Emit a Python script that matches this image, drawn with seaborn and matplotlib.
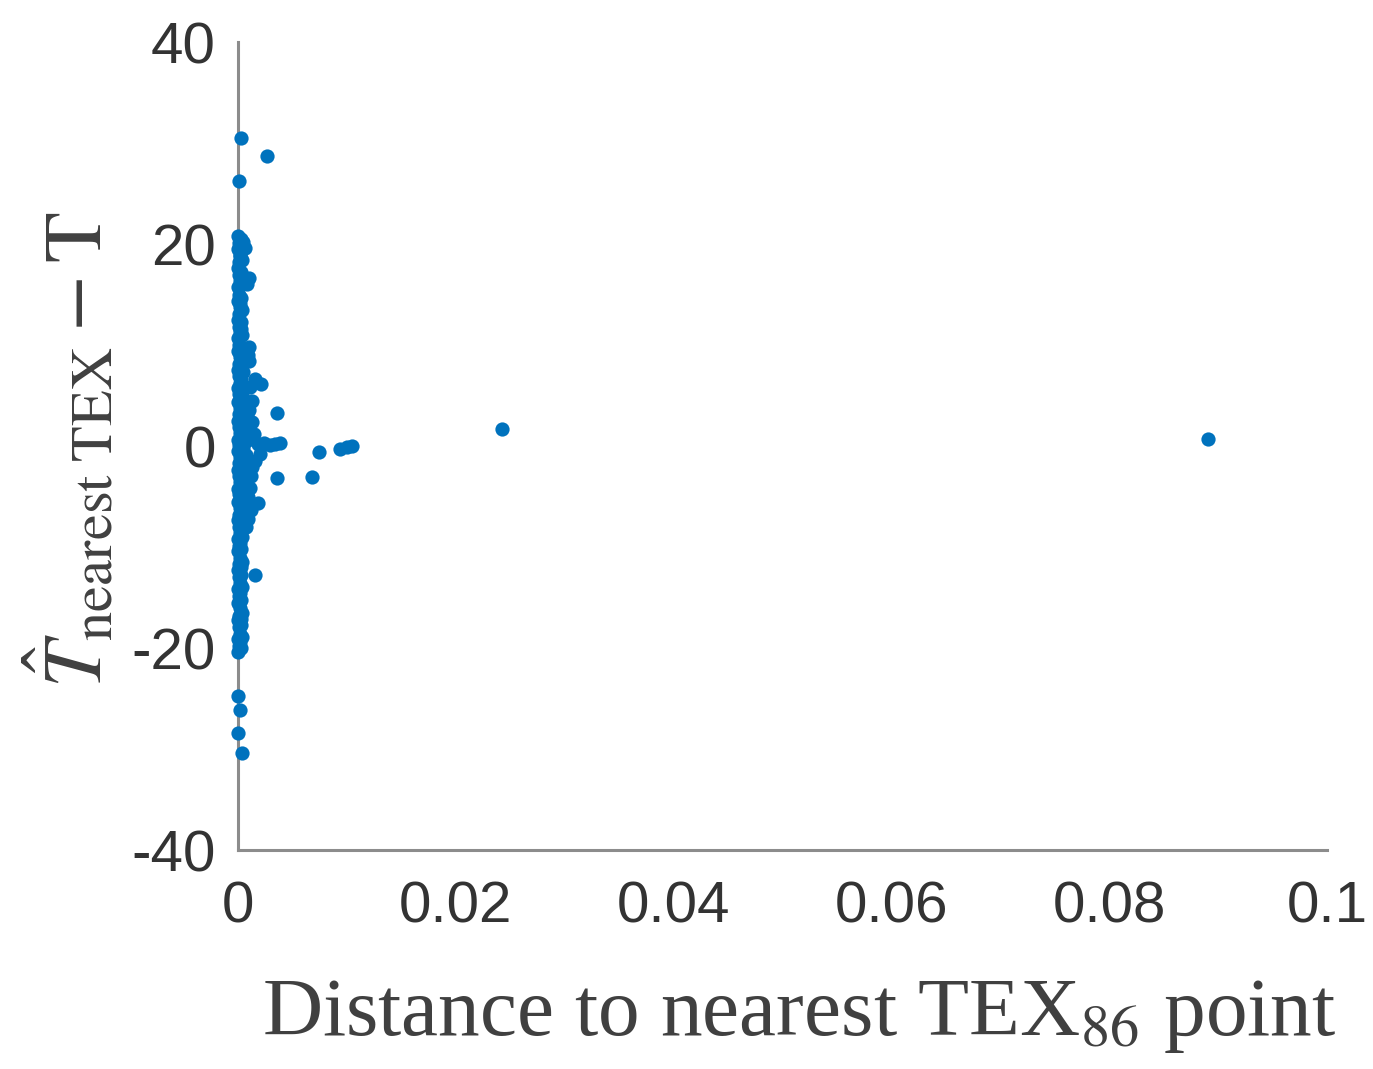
import matplotlib
matplotlib.use("Agg")
import matplotlib.pyplot as plt
import seaborn as sns
import pandas as pd

# ---- data ----
# dense column right next to x = 0
core_x = [0.0000, 0.0001, 0.0000, 0.0002, 0.0001, 0.0000, 0.0001, 0.0002, 0.0000, 0.0001,
          0.0000, 0.0002, 0.0001, 0.0000, 0.0001, 0.0002, 0.0000, 0.0001, 0.0000, 0.0002,
          0.0001, 0.0000, 0.0001, 0.0002, 0.0000, 0.0001, 0.0000, 0.0002, 0.0001, 0.0000,
          0.0001, 0.0002, 0.0000, 0.0001, 0.0000, 0.0002, 0.0001, 0.0000, 0.0001, 0.0002,
          0.0000, 0.0001, 0.0000, 0.0002, 0.0001, 0.0000, 0.0001, 0.0002, 0.0000, 0.0001,
          0.0000, 0.0002, 0.0001, 0.0000, 0.0001, 0.0002, 0.0000, 0.0001, 0.0000, 0.0002,
          0.0001, 0.0000, 0.0001, 0.0002, 0.0000, 0.0001, 0.0000]
core_y = [-20.4, -19.8, -19.1, -18.6, -17.9, -17.2, -16.8, -16.0, -15.5, -14.9,
          -14.2, -13.6, -13.0, -12.3, -11.7, -11.1, -10.4, -9.9, -9.2, -8.6,
          -8.0, -7.3, -6.8, -6.1, -5.5, -4.8, -4.3, -3.6, -3.0, -2.4,
          -1.7, -1.1, -0.5, 0.1, 0.6, 1.3, 1.9, 2.5, 3.2, 3.8,
          4.4, 5.1, 5.7, 6.2, 6.9, 7.5, 8.1, 8.8, 9.4, 10.0,
          10.7, 11.3, 11.8, 12.5, 13.1, 13.8, 14.4, 15.0, 15.7, 16.3,
          16.9, 17.6, 18.2, 18.8, 19.5, 20.1, 20.8]
# second column slightly further out
col2_x = [0.0003, 0.0004, 0.0003, 0.0004, 0.0003, 0.0004, 0.0003, 0.0004, 0.0003, 0.0004,
          0.0005, 0.0004, 0.0005, 0.0004, 0.0005, 0.0004, 0.0005, 0.0004, 0.0005, 0.0004,
          0.0005, 0.0004, 0.0005, 0.0004, 0.0003, 0.0004, 0.0003, 0.0004, 0.0003, 0.0004,
          0.0003, 0.0004, 0.0003]
col2_y = [-20.0, -18.9, -17.7, -16.5, -15.2, -14.0, -12.8, -11.5, -10.2, -9.0,
          -7.8, -6.5, -5.2, -4.0, -2.7, -1.5, -0.2, 1.0, 2.3, 3.5,
          4.8, 6.0, 7.3, 8.5, 9.8, 11.0, 12.3, 13.5, 14.7, 16.0,
          17.2, 18.4, 19.7]
# third, sparser column filling the middle of the band
col3_x = [0.0002, 0.0003, 0.0002, 0.0003, 0.0002, 0.0003, 0.0002, 0.0006, 0.0007, 0.0006,
          0.0008, 0.0007, 0.0006, 0.0007, 0.0008, 0.0006, 0.0003, 0.0002, 0.0003, 0.0002,
          0.0003, 0.0002, 0.0003]
col3_y = [-19.4, -17.1, -14.6, -12.0, -9.6, -8.3, -7.0, -5.9, -4.6, -3.3,
          -1.9, -0.9, 0.4, 1.7, 3.0, 4.1, 6.6, 9.1, 11.6, 14.1,
          16.6, 18.9, 20.5]
# bumps and outliers
out_x = [0.0005, 0.0006, 0.0010, 0.0008, 0.0010, 0.0009, 0.0010, 0.0021, 0.0016, 0.0011,
         0.0013, 0.0010, 0.0036, 0.0013, 0.0015, 0.0012, 0.0018, 0.0024, 0.0029, 0.0034,
         0.0039, 0.0020, 0.0016, 0.0013, 0.0036, 0.0068, 0.0074, 0.0094, 0.0100, 0.0105,
         0.0012, 0.0011, 0.0009, 0.0018, 0.0012, 0.0009, 0.0007, 0.0016,
         0.0003, 0.0027, 0.0001, 0.0000, 0.0002, 0.0000, 0.0004, 0.0242, 0.0891]
out_y = [20.2, 19.6, 16.6, 16.0, 9.8, 9.0, 8.4, 6.1, 6.6, 5.8,
         4.5, 3.6, 3.3, 2.4, 1.2, 0.7, 0.2, 0.3, 0.1, 0.2,
         0.3, -0.8, -1.5, -2.1, -3.2, -3.1, -0.6, -0.3, -0.1, 0.0,
         -3.0, -4.2, -5.0, -5.6, -6.3, -7.2, -8.0, -12.8,
         30.5, 28.7, 26.2, -24.8, -26.1, -28.4, -30.4, 1.7, 0.7]

x_ticks = [0, 0.02, 0.04, 0.06, 0.08, 0.1]
x_ticklabels = ["0", "0.02", "0.04", "0.06", "0.08", "0.1"]
y_ticks = [-40, -20, 0, 20, 40]
y_ticklabels = ["-40", "-20", "0", "20", "40"]

df = pd.DataFrame({"dist": core_x + col2_x + col3_x + out_x,
                   "diff": core_y + col2_y + col3_y + out_y})

sns.set_theme(style="white")
plt.rcParams["mathtext.fontset"] = "stix"
plt.rcParams["axes.unicode_minus"] = False

fig = plt.figure(figsize=(13.73, 10.69), dpi=100)
ax = fig.add_axes([238 / 1373, 1 - 850 / 1069, (1327 - 238) / 1373, (850 - 42) / 1069])

sns.scatterplot(data=df, x="dist", y="diff", ax=ax, s=105, color="#0072BD",
                linewidth=0, clip_on=False, zorder=3, legend=False)

ax.set_xlim(0, 0.1)
ax.set_ylim(-40, 40)
ax.set_xticks(x_ticks)
ax.set_xticklabels(x_ticklabels)
ax.set_yticks(y_ticks)
ax.set_yticklabels(y_ticklabels)

for s in ["top", "right"]:
    ax.spines[s].set_visible(False)
for s in ["left", "bottom"]:
    ax.spines[s].set_color("#8c8c8c")
    ax.spines[s].set_linewidth(2.2)
    ax.spines[s].set_zorder(1)

ax.tick_params(axis="both", direction="in", length=5, width=2, color="#8c8c8c",
               labelsize=42, labelcolor="#333333", labelfontfamily="Liberation Sans")
ax.tick_params(axis="y", pad=16)
ax.tick_params(axis="x", pad=22)

ax.set_xlabel(r"Distance to nearest TEX$_{86}$ point", fontsize=60,
              family="Liberation Serif", color="#404040")
ax.xaxis.set_label_coords(0.515, -0.158)
ax.set_ylabel(r"$\hat{T}_{\mathrm{nearest\ TEX}} - \mathrm{T}$", fontsize=60,
              color="#404040")
ax.yaxis.set_label_coords(-0.11, 0.495)

fig.savefig("out.png", dpi=100, facecolor="white")
